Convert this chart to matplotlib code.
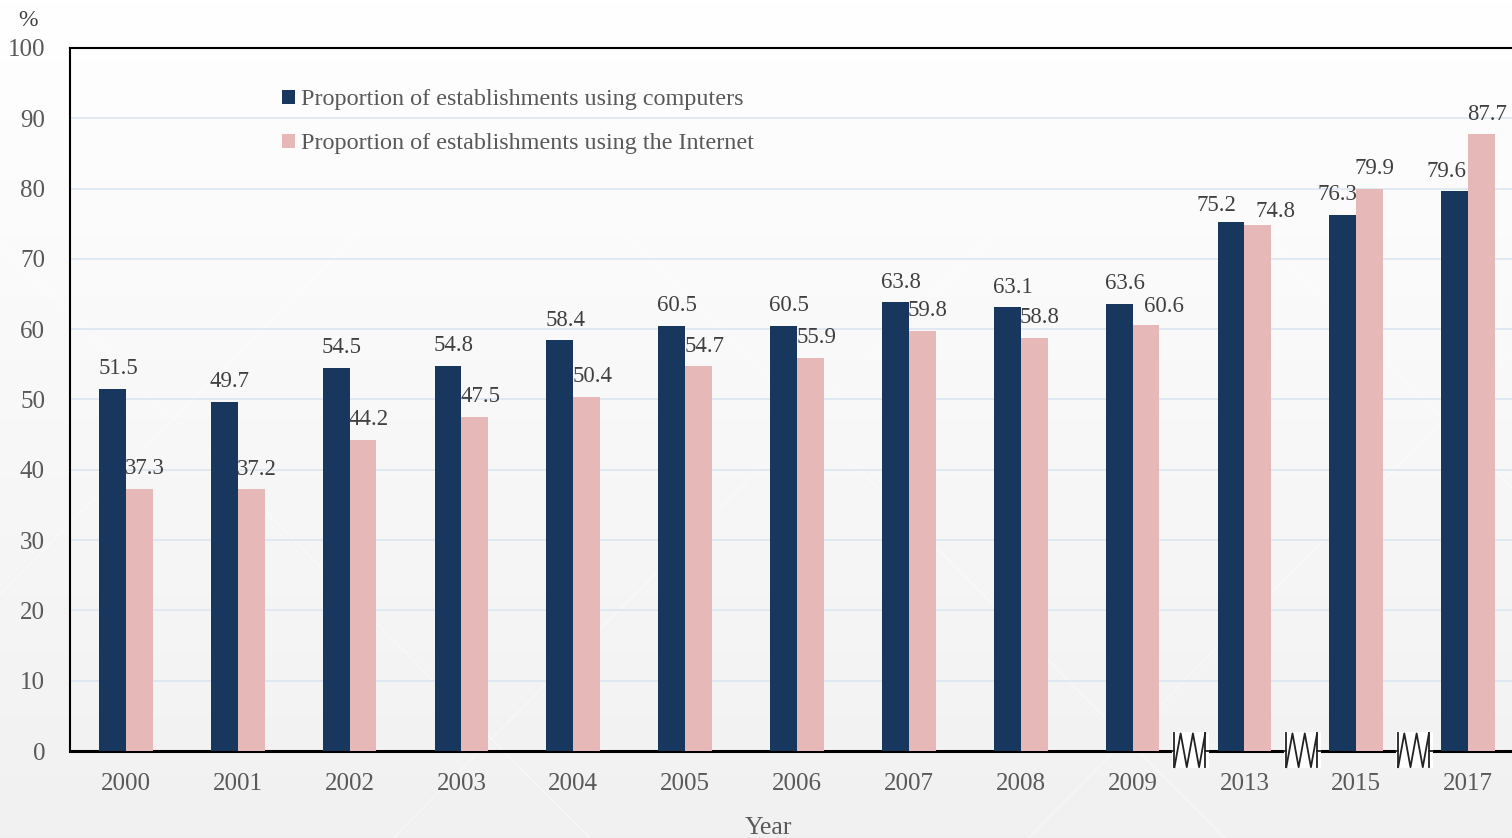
import matplotlib.pyplot as plt
import numpy as np

# Data
years = ['2000', '2001', '2002', '2003', '2004', '2005', '2006',
         '2007', '2008', '2009', '2013', '2015', '2017']
computers = [51.5, 49.7, 54.5, 54.8, 58.4, 60.5, 60.5,
             63.8, 63.1, 63.6, 75.2, 76.3, 79.6]
internet = [37.3, 37.2, 44.2, 47.5, 50.4, 54.7, 55.9,
            59.8, 58.8, 60.6, 74.8, 79.9, 87.7]
breaks_after = [9, 10, 11]  # axis breaks between these positions and the next

# label nudges (x in category units, y in %), as placed in the original
comp_dx = [0.05] * 10 + [-0.13, -0.05, -0.07]
comp_dy = [1.4] * 10 + [0.9, 1.4, 1.4]
int_dx = [0.05] * 9 + [0.16, 0.16, 0.04, 0.05]
int_dy = [1.4] * 9 + [1.1, 0.5, 1.4, 1.3]

DARK = '#17375e'
PINK = '#e6b8b7'
GREY = '#595959'

plt.rcParams['font.family'] = ['Liberation Serif', 'DejaVu Serif']

fig = plt.figure(figsize=(15.12, 8.38), dpi=100)

# soft background gradient
bg = fig.add_axes([0, 0, 1, 1], zorder=-10)
grad = np.linspace(1.0, 0.945, 256).reshape(-1, 1)
bg.imshow(np.dstack([grad, grad, grad]), aspect='auto', extent=[0, 1, 0, 1])
for x0 in np.arange(-1.0, 1.6, 0.42):
    bg.plot([x0, x0 + 0.55], [1, 0], color='white', lw=0.8, alpha=0.5)
    bg.plot([x0, x0 + 0.55], [0, 1], color='white', lw=0.8, alpha=0.5)
bg.set_xlim(0, 1)
bg.set_ylim(0, 1)
bg.axis('off')

W, H = 1512, 838
left, right, top, bottom = 70, 1524, 48, 751
ax = fig.add_axes([left / W, 1 - bottom / H, (right - left) / W, (bottom - top) / H])
ax.set_facecolor('none')

x = np.arange(len(years))
bw = 0.24
ax.bar(x - bw / 2, computers, bw, color=DARK, zorder=3,
       label='Proportion of establishments using computers')
ax.bar(x + bw / 2, internet, bw, color=PINK, zorder=3,
       label='Proportion of establishments using the Internet')

for k, xi in enumerate(x):
    ax.text(xi - bw / 2 + comp_dx[k], computers[k] + comp_dy[k], f'{computers[k]}',
            ha='center', va='bottom', fontsize=16.4, color='#404040', zorder=5)
    ax.text(xi + bw / 2 + int_dx[k], internet[k] + int_dy[k], f'{internet[k]}',
            ha='center', va='bottom', fontsize=16.4, color='#404040', zorder=5)

ax.set_xlim(-0.5, len(years) - 0.5)
ax.set_ylim(0, 100)
ax.set_yticks(range(0, 101, 10))
ax.set_xticks(x)
ax.set_xticklabels(years)
ax.tick_params(axis='both', length=0, labelsize=18, colors=GREY)
ax.tick_params(axis='y', pad=18)
ax.tick_params(axis='x', pad=15.5)
ax.grid(axis='y', color='#dce6f2', lw=1.2, zorder=0)

for s in ['top', 'left']:
    ax.spines[s].set_color('black')
    ax.spines[s].set_linewidth(1.5)
ax.spines['bottom'].set_linewidth(2.2)
ax.spines['right'].set_visible(False)

# axis break marks
for b in breaks_after:
    xc = b + 0.52
    dx = 0.165
    ax.add_patch(plt.Rectangle((xc - dx, -2.45), 2 * dx, 5.1, facecolor='white',
                               edgecolor='none', zorder=6, clip_on=False))
    zx = xc + np.array([-dx, -0.145, -0.145, -0.145, -0.09, -0.035,
                        0.02, 0.075, 0.13, 0.13, 0.13, dx])
    zy = np.array([0, 0, 2.5, -2.3, 2.5, -2.3, 2.5, -2.3, 2.5, -2.3, 0, 0])
    kw = dict(color='#222222', lw=1.3, zorder=7, clip_on=False)
    ax.plot(zx[[0, 1]], zy[[0, 1]], **kw)
    ax.plot([zx[2], zx[3]], [zy[2], zy[3]], **kw)
    ax.plot(zx[3:9], zy[3:9], **kw)
    ax.plot([zx[8], zx[9]], [zy[8], zy[9]], **kw)
    ax.plot(zx[[10, 11]], zy[[10, 11]], **kw)

leg = ax.legend(loc='upper left', bbox_to_anchor=(0.1395, 0.955), frameon=False,
                fontsize=17.4, handlelength=0.5, handleheight=0.5,
                handletextpad=0.25, labelspacing=0.95, borderaxespad=0)
for t in leg.get_texts():
    t.set_color(GREY)

fig.text(28 / W, 1 - 21 / H, '%', ha='center', va='center', fontsize=17, color='#404040')
fig.text(768 / W, 1 - 828 / H, 'Year', ha='center', va='center', fontsize=18.5, color=GREY)

fig.savefig('out.png', dpi=100)
